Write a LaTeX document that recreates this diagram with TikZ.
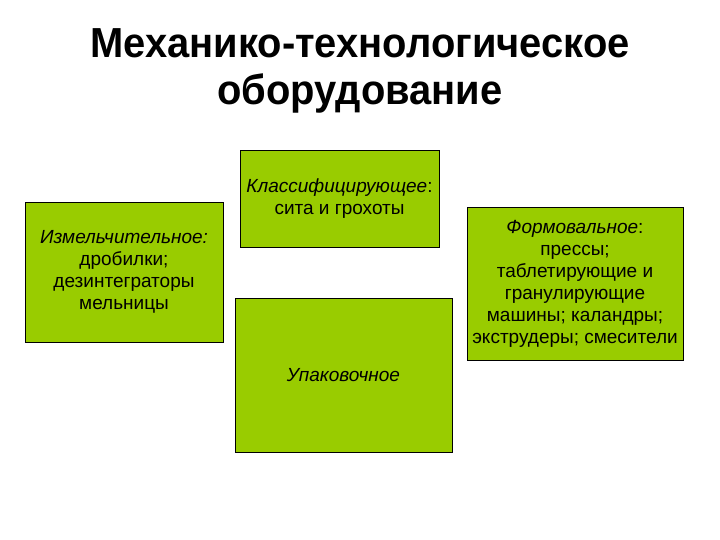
\documentclass[tikz,border=0pt]{standalone}
\usepackage{fontspec}
\setmainfont{Liberation Sans}
\newfontfamily\titlefont[FakeStretch=0.95]{Liberation Sans}
\usepackage{tikz}
\usetikzlibrary{positioning}

\begin{document}
\begin{tikzpicture}[x=1pt,y=-1pt,
  kind/.style={draw=black,line width=0.8pt,fill=boxgreen,align=center,inner sep=0pt,
    font=\fontsize{19}{22}\selectfont},
  heading/.style={anchor=base,inner sep=0pt,font=\titlefont\bfseries\fontsize{42}{42}\selectfont}]
\definecolor{boxgreen}{HTML}{99CC00}
\useasboundingbox (0,0) rectangle (720,540);
\node[heading] (title) at (360,58) {Механико-технологическое};
\node[heading] (subtitle) at (360,105) {оборудование};
\node[kind,minimum width=198pt,minimum height=140pt] (grind) at (124,272)
  {\textit{Измельчительное:}\\дробилки;\\дезинтеграторы\\мельницы};
\node[kind,minimum width=199pt,minimum height=97pt] (classify) at (339.5,198.5)
  {\textit{Классифицирующее}:\\сита и грохоты};
\node[kind,minimum width=217pt,minimum height=154pt] (pack) at (343.5,375)
  {\textit{Упаковочное}};
\node[kind,minimum width=216pt,minimum height=153pt] (form) at (575,283.5)
  {\textit{Формовальное}:\\прессы;\\таблетирующие и\\гранулирующие\\машины; каландры;\\экструдеры; смесители};
\end{tikzpicture}
\end{document}
